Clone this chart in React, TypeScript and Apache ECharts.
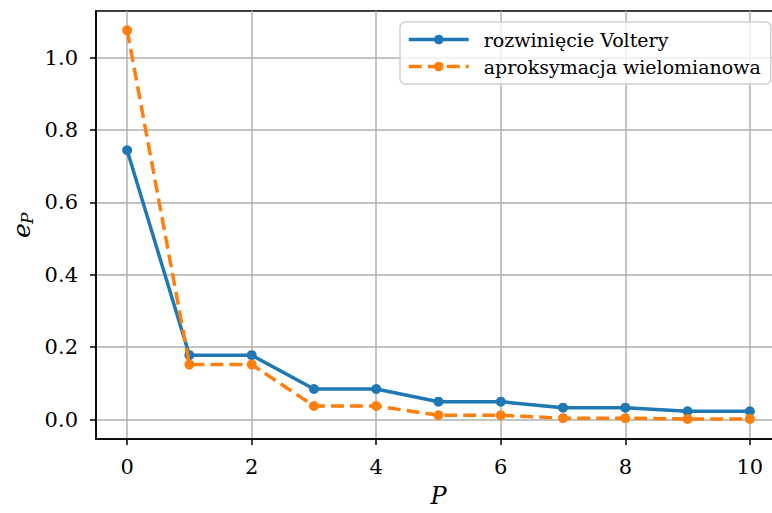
import React, { useEffect, useRef } from "react";
import * as echarts from "echarts";

// Error e_P as a function of the model order P
const orders = [0, 1, 2, 3, 4, 5, 6, 7, 8, 9, 10];
const volterraErr = [0.744, 0.178, 0.178, 0.0845, 0.0845, 0.0495, 0.0495, 0.033, 0.033, 0.023, 0.023];
const polyErr = [1.075, 0.152, 0.152, 0.0377, 0.0377, 0.012, 0.012, 0.004, 0.004, 0.002, 0.002];
const xTicks = [0, 2, 4, 6, 8, 10];
const yTicks = [0, 0.2, 0.4, 0.6, 0.8, 1.0];
const seriesNames = ["rozwinięcie Voltery", "aproksymacja wielomianowa"];

const BLUE = "#1f77b4";
const ORANGE = "#ff7f0e";
const SERIF = "DejaVu Serif";
const LINE_W = 3.5;

export default function App() {
  const ref = useRef<HTMLDivElement>(null);

  useEffect(() => {
    if (!ref.current) return;
    const chart = echarts.init(ref.current, null, { renderer: "svg" });
    const axisCommon = {
      axisLine: { show: true, onZero: false, lineStyle: { color: "#000", width: 1.5 } },
      axisTick: { show: true, inside: false, length: 6, lineStyle: { color: "#000", width: 1.5 } },
      splitLine: { show: true, lineStyle: { color: "#b0b0b0", width: 1.5 } },
    };
    const legendText = { fontFamily: SERIF, fontSize: 19, color: "#000", padding: [0, 0, 0, 10] };
    chart.setOption({
      animation: false,
      backgroundColor: "#fff",
      grid: {
        left: 96,
        top: 11,
        right: 1,
        bottom: 74,
        outerBoundsMode: "none",
        containLabel: false,
        show: true,
        borderColor: "#000",
        borderWidth: 1.5,
        backgroundColor: "transparent",
      },
      xAxis: {
        type: "value",
        min: -0.5,
        max: 10.5,
        ...axisCommon,
        axisTick: { ...axisCommon.axisTick, customValues: xTicks },
        axisLabel: {
          customValues: xTicks,
          color: "#000",
          fontFamily: SERIF,
          fontSize: 21,
          margin: 17,
          formatter: (v: number) => String(v),
        },
        name: "P",
        nameLocation: "middle",
        nameGap: 45,
        nameTextStyle: { fontFamily: SERIF, fontStyle: "italic", fontSize: 24, color: "#000" },
      },
      yAxis: {
        type: "value",
        min: -0.0535,
        max: 1.1285,
        ...axisCommon,
        axisTick: { ...axisCommon.axisTick, customValues: yTicks },
        axisLabel: {
          customValues: yTicks,
          color: "#000",
          fontFamily: SERIF,
          fontSize: 21,
          margin: 18,
          formatter: (v: number) => v.toFixed(1),
        },
      },
      legend: {
        left: 400,
        top: 22,
        orient: "vertical",
        data: seriesNames.map((name) => ({ name, lineStyle: { width: LINE_W }, textStyle: legendText })),
        itemWidth: 60,
        itemHeight: 12,
        itemGap: 8,
        padding: [8, 10, 8, 7],
        backgroundColor: "rgba(255,255,255,0.8)",
        borderColor: "#d0d0d0",
        borderWidth: 1.5,
        borderRadius: 5,
        lineStyle: { width: LINE_W },
        textStyle: legendText,
      },
      graphic: [
        {
          type: "group",
          x: 9,
          y: 238,
          rotation: Math.PI / 2,
          children: [
            {
              type: "text",
              x: 0,
              y: 0,
              style: { text: "e", fontFamily: SERIF, fontStyle: "italic", fontSize: 25, fill: "#000" },
            },
            {
              type: "text",
              x: 14,
              y: 9,
              style: { text: "P", fontFamily: SERIF, fontStyle: "italic", fontSize: 17, fill: "#000" },
            },
          ],
        },
      ],
      series: [
        {
          name: seriesNames[0],
          type: "line",
          data: orders.map((p, i) => [p, volterraErr[i]]),
          symbol: "circle",
          symbolSize: 10,
          itemStyle: { color: BLUE },
          lineStyle: { color: BLUE, width: LINE_W },
          z: 3,
        },
        {
          name: seriesNames[1],
          type: "line",
          data: orders.map((p, i) => [p, polyErr[i]]),
          symbol: "circle",
          symbolSize: 10,
          itemStyle: { color: ORANGE },
          lineStyle: { color: ORANGE, width: LINE_W, type: [13, 6] },
          z: 4,
        },
      ],
    });
    return () => chart.dispose();
  }, []);

  // The chart is wider than the visible frame so its right border falls outside it
  return (
    <div style={{ position: "fixed", left: 0, top: 0, width: 772, height: 513, overflow: "hidden", background: "#fff" }}>
      <div ref={ref} style={{ width: 782, height: 513 }} />
    </div>
  );
}
